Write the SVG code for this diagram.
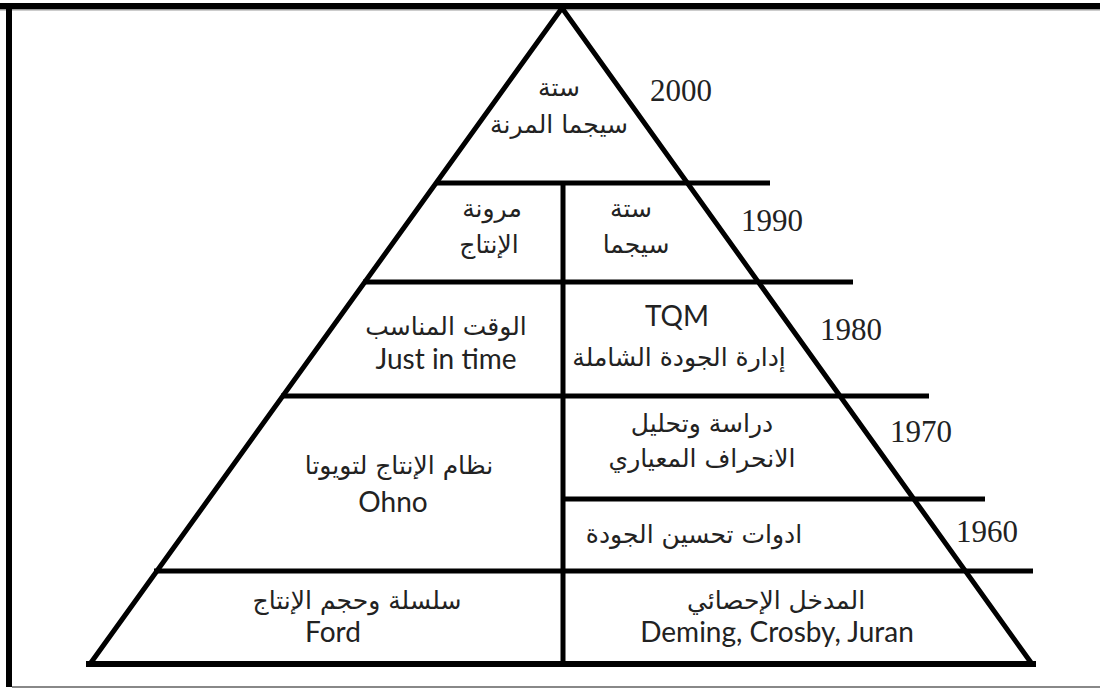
<svg xmlns="http://www.w3.org/2000/svg" width="1100" height="688" viewBox="0 0 1100 688">
<style>
.ln{stroke:#000;stroke-width:5;fill:none;stroke-linecap:butt}
.yr{font-family:"Liberation Serif",serif;font-size:31px;fill:#222;text-anchor:middle}
.ar{font-family:"DejaVu Sans","Liberation Serif",sans-serif;font-size:25px;fill:#222;text-anchor:middle}
.en{font-family:Lato,"Liberation Sans",sans-serif;font-size:28px;fill:#222;text-anchor:middle}
</style>
<rect x="0" y="0" width="1100" height="688" fill="#fff"/>
<g id="frame">
<rect x="0" y="3" width="1100" height="6" fill="#000"/>
<rect x="0" y="9" width="1100" height="1.5" fill="#999"/>
<rect x="6" y="3" width="6" height="684" fill="#000"/>
<rect x="12" y="686" width="1088" height="2" fill="#888"/>
</g>
<g id="connectors">
<polyline class="ln" points="90,664 562,8 1032,664"/>
<line class="ln" x1="86" y1="664" x2="1036" y2="664" style="stroke-width:6"/>
<line class="ln" x1="435" y1="183" x2="770" y2="183"/>
<line class="ln" x1="363" y1="282" x2="853" y2="282"/>
<line class="ln" x1="281" y1="396" x2="929" y2="396"/>
<line class="ln" x1="563" y1="499" x2="985" y2="499"/>
<line class="ln" x1="154" y1="571" x2="1033" y2="571"/>
<line class="ln" x1="563" y1="181" x2="563" y2="664"/>
</g>
<g id="n2000">
<text class="ar" x="559" y="96">ستة</text>
<text class="ar" x="559" y="133">سيجما المرنة</text>
<text class="yr" x="681" y="101">2000</text>
</g>
<g id="n1990a">
<text class="ar" x="492" y="217">مرونة</text>
<text class="ar" x="489" y="253">الإنتاج</text>
</g>
<g id="n1990b">
<text class="ar" x="631" y="217">ستة</text>
<text class="ar" x="636" y="253">سيجما</text>
<text class="yr" x="772" y="231">1990</text>
</g>
<g id="n1980a">
<text class="ar" x="446" y="335">الوقت المناسب</text>
<text class="en" x="446" y="369">Just in time</text>
</g>
<g id="n1980b">
<text class="en" x="677" y="326">TQM</text>
<text class="ar" x="679" y="366">إدارة الجودة الشاملة</text>
<text class="yr" x="851" y="340">1980</text>
</g>
<g id="n1970">
<text class="ar" x="702" y="432">دراسة وتحليل</text>
<text class="ar" x="702" y="467">الانحراف المعياري</text>
<text class="yr" x="921" y="442">1970</text>
</g>
<g id="nOhno">
<text class="ar" x="399" y="474">نظام الإنتاج لتويوتا</text>
<text class="en" x="393" y="512">Ohno</text>
</g>
<g id="n1960">
<text class="ar" x="694" y="543">ادوات تحسين الجودة</text>
<text class="yr" x="987" y="542">1960</text>
</g>
<g id="nFord">
<text class="ar" x="357" y="609">سلسلة وحجم الإنتاج</text>
<text class="en" x="333" y="642">Ford</text>
</g>
<g id="nDeming">
<text class="ar" x="776" y="609">المدخل الإحصائي</text>
<text class="en" x="777" y="642">Deming, Crosby, Juran</text>
</g>
</svg>
